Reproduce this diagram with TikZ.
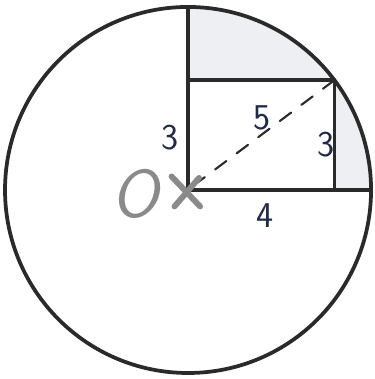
\documentclass[tikz,border=0pt]{standalone}
\usepackage{tikz}
\usetikzlibrary{calc}
\definecolor{tinta}{HTML}{2A2A2A}
\definecolor{sombra}{HTML}{EDEFF3}
\definecolor{azul}{HTML}{1F2A48}
\definecolor{cinza}{HTML}{8A8A8A}

\begin{document}
\begin{tikzpicture}[x=1.098cm, y=1.098cm, line cap=round, line join=round]
  \useasboundingbox (-5.137,-5.164) rectangle (5.082,5.19);
  \tikzset{rotulo/.style={text=azul, font=\sffamily\fontsize{31}{33}\selectfont, inner sep=0pt}}
  % regioes sombreadas
  \fill[sombra] (0,3) -- (0,5) arc[start angle=90, end angle=36.87, radius=5] -- cycle;
  \fill[sombra] (4,0) -- (5,0) arc[start angle=0, end angle=36.87, radius=5] -- cycle;
  % circulo e retangulo
  \draw[tinta, line width=3.2pt] (0,0) circle[radius=5];
  \draw[tinta, line width=3.2pt] (0,5) -- (0,0) -- (5,0);
  \draw[tinta, line width=3.2pt] (0,3) -- (4,3) -- (4,0);
  \draw[tinta, line width=1.8pt, dash pattern=on 12pt off 11pt] (0.15,0.12) -- (4,3);
  % centro O
  \draw[cinza, line width=5pt] (-0.45,0.37) -- (0.33,-0.45);
  \draw[cinza, line width=5pt] (-0.37,-0.45) -- (0.3,0.33);
  \node[text=cinza, font=\sffamily\itshape\fontsize{58}{60}\selectfont, inner sep=0pt] (origem) at (-1.45,-0.12) {O};
  % medidas
  \node[rotulo] (lado) at (-0.49,1.42) {3};
  \node[rotulo] (raio) at (2.02,1.97) {5};
  \node[rotulo] (alt) at (3.78,1.23) {3};
  \node[rotulo] (base) at (2.1,-0.7) {4};
\end{tikzpicture}
\end{document}
